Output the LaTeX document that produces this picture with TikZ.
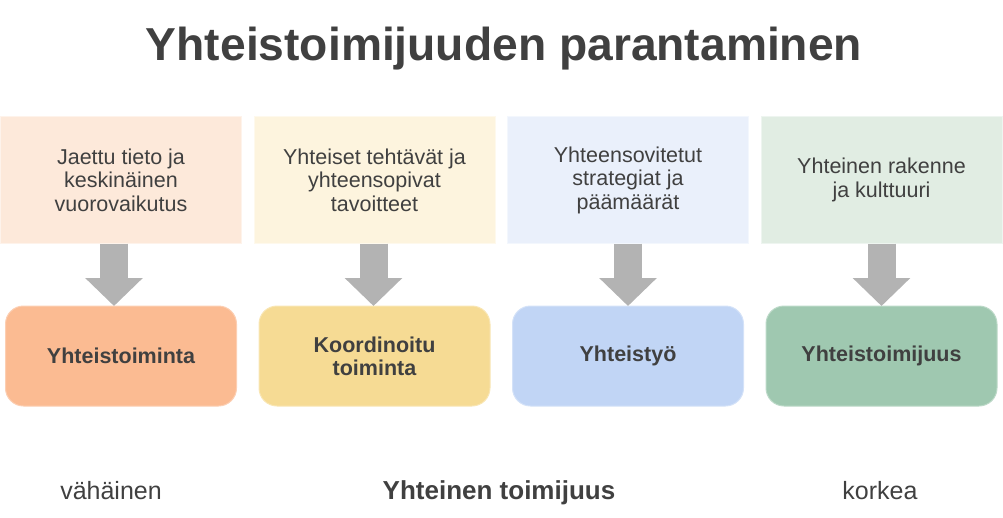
\documentclass[tikz,border=0pt]{standalone}
\usepackage{fontspec}
\setmainfont{Liberation Sans}
\usetikzlibrary{positioning,arrows.meta}
\definecolor{inkgray}{HTML}{404040}
\definecolor{arrowgray}{HTML}{B3B3B3}
\definecolor{peachA}{HTML}{FDE9DA}
\definecolor{peachB}{HTML}{FBBB92}
\definecolor{sandA}{HTML}{FDF4DE}
\definecolor{sandB}{HTML}{F6DB94}
\definecolor{skyA}{HTML}{EAF0FB}
\definecolor{skyB}{HTML}{C1D5F5}
\definecolor{sageA}{HTML}{E1EDE3}
\definecolor{sageB}{HTML}{9FC8B0}
\tikzset{
    upperbox/.style = {draw = #1!55!white, fill = #1, line width = 1pt,
        minimum width = 241pt, minimum height = 127pt, inner sep = 0pt,
        outer sep = 0pt, align = center, text = inkgray,
        font = \fontsize{21.5}{23.5}\selectfont},
    lowerbox/.style = {draw = #1!70!white, fill = #1, line width = 1pt,
        rounded corners = 18pt, minimum width = 231pt, minimum height = 100pt,
        inner sep = 0pt, outer sep = 0pt, align = center, text = inkgray,
        font = \fontsize{21.5}{23}\selectfont\bfseries},
    blockarrow/.style = {draw = arrowgray, line width = 28pt,
        -{Triangle[length = 28pt, width = 56pt]}},
    scalelabel/.style = {anchor = base, text = inkgray,
        font = \fontsize{25}{28}\selectfont}
}
\begin{document}
\begin{tikzpicture}[x = 1pt, y = -1pt]
        \useasboundingbox (0, 0) rectangle (1003, 517);

        \node [anchor = base, text = inkgray, font = \fontsize{46.2}{50}\selectfont\bfseries]
            (title) at (504, 60) {Yhteistoimijuuden parantaminen};

        % upper row
        \node [upperbox = peachA] (top1) at (121, 180)
            {Jaettu tieto ja\\keskinäinen\\vuorovaikutus};
        \node [upperbox = sandA, right = 12.5pt of top1] (top2)
            {Yhteiset tehtävät ja\\yhteensopivat\\tavoitteet};
        \node [upperbox = skyA, right = 12.5pt of top2] (top3)
            {Yhteensovitetut\\strategiat ja\\päämäärät};
        \node [upperbox = sageA, right = 12.5pt of top3] (top4)
            {Yhteinen rakenne\\ja kulttuuri};

        % lower row
        \node [lowerbox = peachB, below = 62.5pt of top1] (low1) {Yhteistoiminta};
        \node [lowerbox = sandB, below = 62.5pt of top2] (low2) {Koordinoitu\\toiminta};
        \node [lowerbox = skyB, below = 62.5pt of top3] (low3) {Yhteistyö};
        \node [lowerbox = sageB, below = 62.5pt of top4] (low4) {Yhteistoimijuus};

        \foreach \n/\s in {1/-7, 2/-1, 3/0, 4/0} {
            \draw [blockarrow]
                ([xshift = \s pt] top\n.south) -- ([xshift = \s pt] low\n.north);
        }

        % scale along the bottom
        \node [scalelabel] (few) at (111, 499) {vähäinen};
        \node [scalelabel, font = \fontsize{26}{29}\selectfont\bfseries]
            (common) at (499, 499) {Yhteinen toimijuus};
        \node [scalelabel] (high) at (880, 499) {korkea};
    \end{tikzpicture}
\end{document}
